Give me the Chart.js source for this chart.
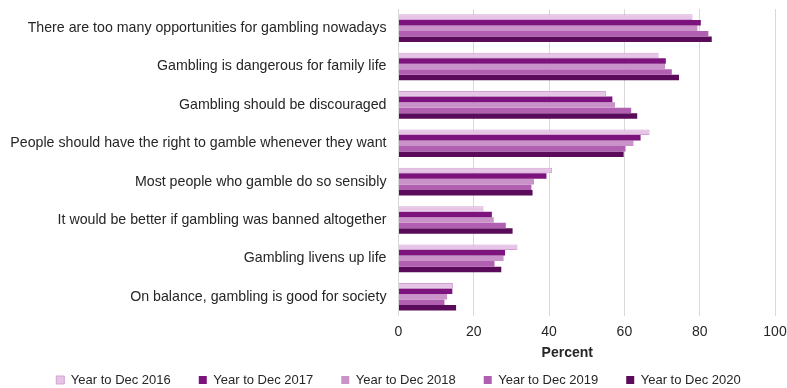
<!DOCTYPE html>
<html>
<head>
<meta charset="utf-8">
<script src="https://cdn.jsdelivr.net/npm/chart.js@4"></script>
<style>
  html, body { margin: 0; padding: 0; background: #fff; }
  #wrap { width: 787px; height: 388px; }
</style>
</head>
<body>
<div id="wrap"><canvas id="attChart"></canvas></div>
<script>
var categories = [
  "There are too many opportunities for gambling nowadays",
  "Gambling is dangerous for family life",
  "Gambling should be discouraged",
  "People should have the right to gamble whenever they want",
  "Most people who gamble do so sensibly",
  "It would be better if gambling was banned altogether",
  "Gambling livens up life",
  "On balance, gambling is good for society"
];
var seriesNames = ["Year to Dec 2016", "Year to Dec 2017", "Year to Dec 2018", "Year to Dec 2019", "Year to Dec 2020"];
var dec2016 = [78.1, 69.1, 55.1, 66.7, 40.8, 22.6, 31.6, 14.5];
var dec2017 = [80.3, 71.0, 56.8, 64.3, 39.3, 24.8, 28.3, 14.3];
var dec2018 = [79.4, 70.8, 57.5, 62.4, 36.0, 25.3, 27.9, 12.9];
var dec2019 = [82.3, 72.6, 61.8, 60.3, 35.3, 28.5, 25.5, 12.2];
var dec2020 = [83.2, 74.5, 63.4, 59.8, 35.6, 30.3, 27.3, 15.3];
var xTicks = [0, 20, 40, 60, 80, 100];

var colors = ["#e6c4e6", "#7d147d", "#c993c9", "#b160b1", "#5a0b5a"];
var borders = ["#d3a3d3", "#7d147d", "#c993c9", "#b160b1", "#5a0b5a"];
var values = [dec2016, dec2017, dec2018, dec2019, dec2020];

Chart.defaults.font.family = "'Liberation Sans', Arial, sans-serif";
Chart.defaults.color = "#262626";

var ctx = document.getElementById('attChart').getContext("2d");

var myChart = new Chart(ctx, {
  type: 'bar',
  data: {
    labels: categories,
    datasets: seriesNames.map(function (name, i) {
      return {
        label: name,
        data: values[i],
        backgroundColor: colors[i],
        borderColor: borders[i],
        borderWidth: i === 0 ? 1 : 0,
        categoryPercentage: 0.72,
        barPercentage: 1.0
      };
    })
  },
  options: {
    indexAxis: 'y',
    responsive: true,
    maintainAspectRatio: false,
    animation: false,
    layout: {
      // negative bottom pulls the legend down to the canvas edge
      padding: { top: 9, right: 0, left: 10, bottom: -8.5 }
    },
    scales: {
      x: {
        min: 0,
        max: 100,
        afterBuildTicks: function (axis) {
          axis.ticks = xTicks.map(function (v) { return { value: v }; });
        },
        afterFit: function (scale) {
          scale.paddingLeft = 0;
          scale.paddingRight = 12;
        },
        grid: {
          color: "#d9d9d9",
          drawTicks: false
        },
        border: { display: false },
        ticks: {
          padding: 8,
          font: { size: 14 },
          color: "#262626"
        },
        title: {
          display: true,
          text: "Percent          ",
          font: { size: 14, weight: 'bold' },
          color: "#262626",
          padding: { top: -4, bottom: -16 }
        }
      },
      y: {
        grid: { display: false, drawTicks: false },
        border: { display: true, color: "#d9d9d9" },
        ticks: {
          padding: 12,
          font: { size: 14.2 },
          color: "#262626"
        },
        afterFit: function (scale) {
          scale.paddingTop = 0;
          scale.paddingBottom = 0;
        }
      }
    },
    plugins: {
      legend: {
        display: true,
        position: 'bottom',
        labels: {
          boxWidth: 8,
          boxHeight: 8,
          padding: 28,
          font: { size: 13 },
          color: "#262626"
        }
      },
      tooltip: { enabled: false }
    }
  }
});
</script>
</body>
</html>
